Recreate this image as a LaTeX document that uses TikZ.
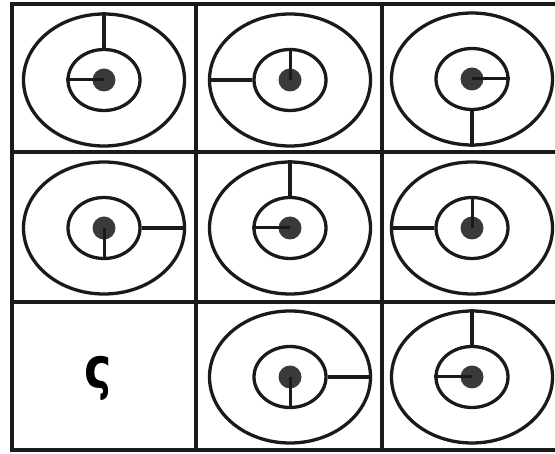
\documentclass[tikz,border=0pt]{standalone}
\usepackage{fontspec}
\newfontfamily\sigmafont{DejaVu Sans}
\usetikzlibrary{shapes.geometric}
\definecolor{inkGrey}{HTML}{1A1A1A}
\definecolor{dotGrey}{HTML}{3A3A3A}

\begin{document}
\begin{tikzpicture}[
  x=1pt, y=-1pt,
  gridline/.style={line width=4.2pt, color=inkGrey},
  outerring/.style={draw=inkGrey, ellipse, line width=3.3pt, inner sep=0pt,
                    minimum width=161pt, minimum height=132pt},
  innerring/.style={draw=inkGrey, ellipse, line width=3.3pt, inner sep=0pt,
                    minimum width=72pt, minimum height=61pt},
  hub/.style={circle, fill=dotGrey, inner sep=0pt, minimum size=23pt},
  longspoke/.style={line width=4pt, color=inkGrey},
  shortspoke/.style={line width=3pt, color=inkGrey}
]
\useasboundingbox (0,0) rectangle (555,454);

\draw[gridline] (555,4) -- (12,4) -- (12,450) -- (555,450);
\draw[gridline] (12,152) -- (555,152);
\draw[gridline] (12,302) -- (555,302);
\draw[gridline] (196,4) -- (196,450);
\draw[gridline] (382,4) -- (382,450);

\foreach \px/\py/\od/\id [count=\n] in {104/80/north/west, 290/80/west/north,
    472/79/south/east, 104/228/east/south, 290/228/north/west,
    472/228/west/north, 290/377/east/south, 472/377/north/west} {
  \node[outerring] (ring\n) at (\px,\py) {};
  \node[innerring] (core\n) at (\px,\py) {};
  \node[hub] (hub\n) at (\px,\py) {};
  \draw[longspoke] (core\n.\od) -- (ring\n.\od);
  \draw[shortspoke] (hub\n.center) -- (core\n.\id);
}

\node[font=\sigmafont\bfseries\fontsize{46}{46}\selectfont, yscale=1.25, inner sep=0pt]
  (blank) at (98,378) {ς};
\end{tikzpicture}
\end{document}
